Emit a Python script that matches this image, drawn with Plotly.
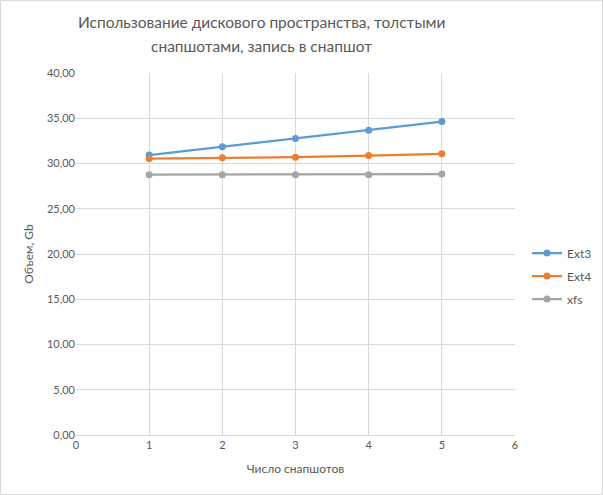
import plotly.graph_objects as go

x_vals = [1, 2, 3, 4, 5]
ext3 = [30.93, 31.84, 32.75, 33.68, 34.63]
ext4 = [30.55, 30.63, 30.70, 30.88, 31.07]
xfs = [28.76, 28.76, 28.76, 28.76, 28.83]
series_names = ["Ext3", "Ext4", "xfs"]
colors = ["#5b9bd5", "#ed7d31", "#a5a5a5"]
y_ticks = [0, 5, 10, 15, 20, 25, 30, 35, 40]
x_ticks = [0, 1, 2, 3, 4, 5, 6]
title_lines = ["Использование дискового пространства, толстыми", "снапшотами, запись в снапшот"]

W, H = 603, 495
ml, mr, mt, mb = 76, 88, 73, 60
pw, ph = W - ml - mr, H - mt - mb

FONT = "Lato, 'Open Sans', sans-serif"
fig = go.Figure()
for i, (name, ys) in enumerate(zip(series_names, [ext3, ext4, xfs])):
    fig.add_trace(go.Scatter(
        x=x_vals, y=ys, name=name, mode="lines+markers",
        line=dict(color=colors[i], width=2.25),
        marker=dict(color=colors[i], size=7),
        legendgroup=name,
    ))

grid = "#d9d9d9"
fig.update_layout(
    width=W, height=H,
    margin=dict(l=ml, r=mr, t=mt, b=mb, autoexpand=False),
    paper_bgcolor="white", plot_bgcolor="white",
    separators=", ",
    font=dict(family=FONT, color="#595959", size=12),
    xaxis=dict(
        range=[0, 6], tickvals=x_ticks, showgrid=True, gridcolor=grid, gridwidth=1,
        zeroline=False, showline=True, linecolor=grid, linewidth=1,
        tickfont=dict(size=11, color="#595959"), ticks="", ticklen=0,
        title=dict(text="Число снапшотов", font=dict(size=12, color="#595959"), standoff=14),
    ),
    yaxis=dict(
        range=[0, 40], tickvals=y_ticks, tickformat=".2f", showgrid=True, gridcolor=grid,
        gridwidth=1, zeroline=False, showline=False,
        tickfont=dict(size=11, color="#595959"), ticks="",
        title=dict(text="Объем, Gb", font=dict(size=12, color="#595959"), standoff=10),
    ),
    legend=dict(
        x=(527 - ml) / pw, xanchor="left", y=(435 - 276) / ph, yanchor="middle",
        font=dict(size=12, color="#595959"), tracegroupgap=4,
        bgcolor="rgba(0,0,0,0)",
    ),
    showlegend=True,
)

for k, line in enumerate(title_lines):
    fig.add_annotation(
        text=line, xref="paper", yref="paper",
        x=(261 - ml) / pw, y=1 + (mt - (22 + 24 * k)) / ph,
        xanchor="center", yanchor="middle", showarrow=False,
        font=dict(size=15.5, color="#595959", family=FONT),
    )

fig.add_shape(
    type="rect", xref="paper", yref="paper",
    x0=(0.5 - ml) / pw, x1=(W - 0.5 - ml) / pw,
    y0=-(mb - 0.5) / ph, y1=1 + (mt - 0.5) / ph,
    line=dict(color=grid, width=1), fillcolor="rgba(0,0,0,0)", layer="below",
)

fig.write_html("out.html")
